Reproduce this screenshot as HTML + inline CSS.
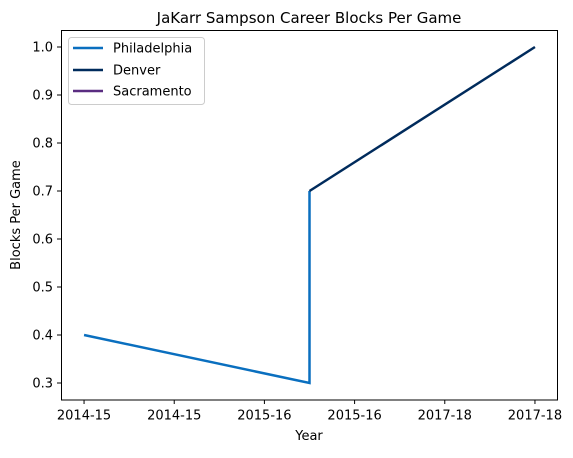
<!DOCTYPE html>
<html><head><meta charset="utf-8"><style>
body{margin:0;background:#fff}
svg text{font-family:"DejaVu Sans","Liberation Sans",sans-serif;fill:#000}
</style></head><body>
<svg id="chart" width="573" height="453" viewBox="0 0 573 453">
<text x="309" y="23" font-size="15" text-anchor="middle">JaKarr Sampson Career Blocks Per Game</text>
<g id="axes"></g>
<g id="series"></g>
<rect x="61.5" y="30.5" width="496" height="369.5" fill="none" stroke="#000" stroke-width="1"/>
<text x="309" y="440" font-size="13" text-anchor="middle">Year</text>
<text x="20" y="215" font-size="13" text-anchor="middle" transform="rotate(-90 20 215)">Blocks Per Game</text>
<g>
<rect x="68.5" y="37.5" width="136" height="67" rx="3" fill="#fff" stroke="#ccc"/>
<line x1="73" y1="48" x2="103" y2="48" stroke="#0a6fbf" stroke-width="2.4"/>
<text x="113" y="52.5" font-size="13">Philadelphia</text>
<line x1="73" y1="70" x2="103" y2="70" stroke="#002b5c" stroke-width="2.4"/>
<text x="113" y="74.5" font-size="13">Denver</text>
<line x1="73" y1="91" x2="103" y2="91" stroke="#5a2d81" stroke-width="2.4"/>
<text x="113" y="95.5" font-size="13">Sacramento</text>
</g>
</svg>
<script>
const xTickLabels=["2014-15","2014-15","2015-16","2015-16","2017-18","2017-18"];
const xTickValues=[0,1,2,3,4,5];
const yTickValues=[0.3,0.4,0.5,0.6,0.7,0.8,0.9,1.0];
const phiX=[0,2.5,2.5];
const phiY=[0.4,0.3,0.7];
const denX=[2.5,5];
const denY=[0.7,1.0];
const sacX=[];
const sacY=[];
const NS="http://www.w3.org/2000/svg";
const L=61.5,R=557.5,T=30.2,B=399.8;
const xMin=-0.25,xMax=5.25,yMin=0.265,yMax=1.035;
function sx(v){return L+(v-xMin)/(xMax-xMin)*(R-L);}
function sy(v){return B-(v-yMin)/(yMax-yMin)*(B-T);}
const axes=document.getElementById('axes');
xTickValues.forEach((v,i)=>{
 const l=document.createElementNS(NS,'line');
 l.setAttribute('x1',sx(v));l.setAttribute('x2',sx(v));l.setAttribute('y1',400);l.setAttribute('y2',404);l.setAttribute('stroke','#000');
 
 
 axes.appendChild(l);
 const t=document.createElementNS(NS,'text');
 t.setAttribute('x',sx(v));t.setAttribute('y',419.5);t.setAttribute('font-size','13');t.setAttribute('text-anchor','middle');
 t.textContent=xTickLabels[i];
 
 
 axes.appendChild(t);
});
yTickValues.forEach(v=>{
 const l=document.createElementNS(NS,'line');
 l.setAttribute('x1',57);l.setAttribute('x2',61.5);l.setAttribute('y1',sy(v));l.setAttribute('y2',sy(v));l.setAttribute('stroke','#000');
 
 
 axes.appendChild(l);
 const t=document.createElementNS(NS,'text');
 t.setAttribute('x',53);t.setAttribute('y',sy(v)+4.7);t.setAttribute('font-size','13');t.setAttribute('text-anchor','end');
 t.textContent=v.toFixed(1);
 
 
 axes.appendChild(t);
});
const series=document.getElementById('series');
function line(xs,ys,color,name){
 if(!xs.length)return;
 const p=document.createElementNS(NS,'polyline');
 p.setAttribute('points',xs.map((x,i)=>sx(x)+','+sy(ys[i])).join(' '));
 p.setAttribute('fill','none');p.setAttribute('stroke',color);p.setAttribute('stroke-width','2.5');
 
 
 series.appendChild(p);
}
line(phiX,phiY,'#0a6fbf','philadelphia-line');
line(denX,denY,'#002b5c','denver-line');
line(sacX,sacY,'#5a2d81','sacramento-line');
</script>
</body></html>
